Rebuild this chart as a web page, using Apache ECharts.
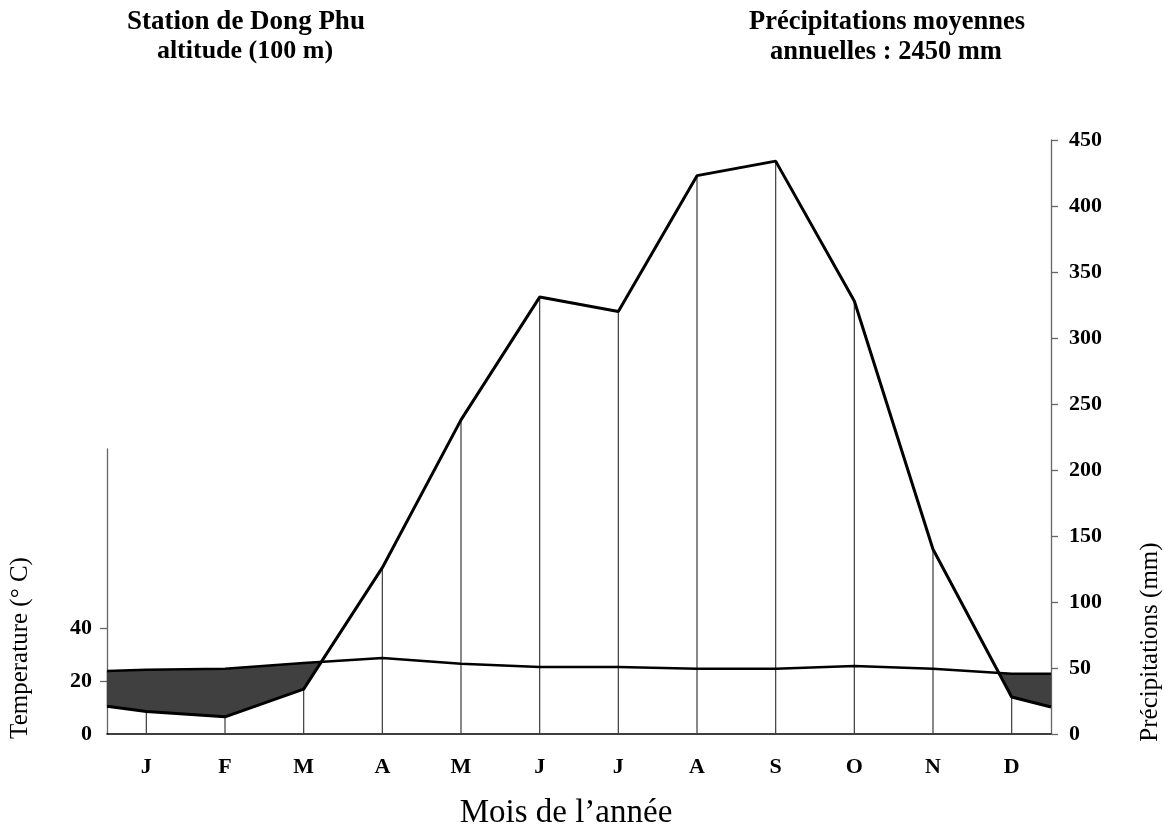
<!DOCTYPE html>
<html>
<head>
<meta charset="utf-8">
<script src="https://cdn.jsdelivr.net/npm/echarts@6/dist/echarts.min.js"></script>
<style>
  html, body { margin: 0; padding: 0; background: #fff; }
  #chart { width: 1165px; height: 828px; }
</style>
</head>
<body>
<div id="chart"></div>
<script>
// Monthly climate normals, Dong Phu station
const months = ['J', 'F', 'M', 'A', 'M', 'J', 'J', 'A', 'S', 'O', 'N', 'D'];
const precipitation = [17, 13, 34, 126, 238, 331, 320, 423, 434, 328, 140, 28];   // mm
const temperature = [24.3, 24.7, 26.9, 28.8, 26.6, 25.4, 25.4, 24.7, 24.7, 25.8, 24.7, 22.8]; // °C
// values at the start (1 Jan) and end (31 Dec) of the year
const precipEdges = [21, 20.5];
const tempEdges = [23.9, 22.8];
// axis ticks
const precipTicks = [0, 50, 100, 150, 200, 250, 300, 350, 400, 450];
const tempTicks = [0, 20, 40];
const tempTickMarks = [20, 40];

const FONT = 'Liberation Serif';
const PRECIP_MAX = 450;

// layout of the plotting area (px)
const PLOT_LEFT = 107, PLOT_RIGHT = 114, PLOT_TOP = 140, PLOT_BOTTOM = 94;
const TEMP_AXIS_TOP = 449;          // where the temperature axis line stops
const CHART_H = 828;
// temperature axis shares the rainfall scale with P = 2T
const plotH = CHART_H - PLOT_TOP - PLOT_BOTTOM;
const tempAxisH = CHART_H - TEMP_AXIS_TOP - PLOT_BOTTOM;
const TEMP_MAX = (PRECIP_MAX / 2) * tempAxisH / plotH;

// x positions: 0 = 1 Jan, 12 = 31 Dec, months at their centres
const monthX = months.map((m, i) => i + 0.5);
const xs = [0].concat(monthX, [12]);
const pSeries = [precipEdges[0]].concat(precipitation, [precipEdges[1]]);
const tSeries = [tempEdges[0]].concat(temperature, [tempEdges[1]]);
const t2Series = tSeries.map(t => 2 * t);

// dry periods: regions where the precipitation curve is below 2T
function dryPolygons(x, p, t2) {
  const polys = [];
  let cur = null;
  for (let i = 0; i < x.length; i++) {
    const d = t2[i] - p[i];
    if (i > 0) {
      const dPrev = t2[i - 1] - p[i - 1];
      if ((dPrev > 0) !== (d > 0)) {
        const f = dPrev / (dPrev - d);
        const xc = x[i - 1] + f * (x[i] - x[i - 1]);
        const yc = p[i - 1] + f * (p[i] - p[i - 1]);
        if (cur) { cur.top.push([xc, yc]); polys.push(cur); cur = null; }
        else { cur = { top: [[xc, yc]], bottom: [] }; }
      }
    }
    if (d > 0) {
      if (!cur) cur = { top: [], bottom: [] };
      cur.top.push([x[i], t2[i]]);
      cur.bottom.push([x[i], p[i]]);
    }
  }
  if (cur) polys.push(cur);
  return polys.map(c => c.top.concat(c.bottom.slice().reverse()));
}
const dryPolys = dryPolygons(xs, pSeries, t2Series);

const chart = echarts.init(document.getElementById('chart'), null, { renderer: 'canvas' });

const labelStyle = { color: '#000', fontFamily: FONT, fontWeight: 'bold', fontSize: 22, lineHeight: 22 };
const centered = { fill: '#000', textAlign: 'center', textVerticalAlign: 'middle', align: 'center', verticalAlign: 'middle' };
const hidden = { show: false };

chart.setOption({
  animation: false,
  backgroundColor: '#fff',
  grid: [
    { left: PLOT_LEFT, right: PLOT_RIGHT, top: PLOT_TOP, bottom: PLOT_BOTTOM, containLabel: false },
    { left: PLOT_LEFT, right: PLOT_RIGHT, top: TEMP_AXIS_TOP, bottom: PLOT_BOTTOM, containLabel: false }
  ],
  xAxis: [
    { // rainfall data axis
      type: 'value', gridIndex: 0, min: 0, max: 12, position: 'bottom',
      axisLine: { show: true, onZero: false, lineStyle: { color: '#000', width: 1.6 } },
      axisTick: hidden, axisLabel: hidden, splitLine: hidden
    },
    { // month letters
      type: 'category', gridIndex: 0, data: months, boundaryGap: true, position: 'bottom',
      axisLine: { show: false, onZero: false }, axisTick: hidden, splitLine: hidden,
      axisLabel: Object.assign({ margin: 22, interval: 0 }, labelStyle)
    },
    { // temperature data axis
      type: 'value', gridIndex: 1, min: 0, max: 12, position: 'bottom',
      axisLine: { show: false, onZero: false }, axisTick: hidden, axisLabel: hidden, splitLine: hidden
    }
  ],
  yAxis: [
    { // precipitation
      type: 'value', gridIndex: 0, position: 'right', min: 0, max: PRECIP_MAX, interval: 50,
      axisLine: { show: true, onZero: false, lineStyle: { color: '#666', width: 1.3 } },
      axisTick: { show: true, length: 7, customValues: precipTicks, lineStyle: { color: '#666', width: 1.3 } },
      axisLabel: Object.assign({ margin: 18, customValues: precipTicks }, labelStyle),
      splitLine: hidden
    },
    { // temperature
      type: 'value', gridIndex: 1, position: 'left', min: 0, max: TEMP_MAX,
      axisLine: { show: true, onZero: false, lineStyle: { color: '#666', width: 1.3 } },
      axisTick: { show: true, length: 7, customValues: tempTickMarks, lineStyle: { color: '#666', width: 1.3 } },
      axisLabel: Object.assign({ margin: 15, customValues: tempTicks }, labelStyle),
      splitLine: hidden
    }
  ],
  graphic: [
    { type: 'text', x: 246, y: 22, style: Object.assign({ text: 'Station de Dong Phu', font: 'bold 27px "Liberation Serif"' }, centered) },
    { type: 'text', x: 245, y: 51, style: Object.assign({ text: 'altitude (100 m)', font: 'bold 26px "Liberation Serif"' }, centered) },
    { type: 'text', x: 887, y: 22, style: Object.assign({ text: 'Précipitations moyennes', font: 'bold 26.5px "Liberation Serif"' }, centered) },
    { type: 'text', x: 886, y: 52, style: Object.assign({ text: 'annuelles : 2450 mm', font: 'bold 26.5px "Liberation Serif"' }, centered) },
    { type: 'text', x: 566, y: 813, style: Object.assign({ text: 'Mois de l’année', font: '33px "Liberation Serif"' }, centered) },
    { type: 'text', x: 20, y: 648, rotation: Math.PI / 2, style: Object.assign({ text: 'Temperature (° C)', font: '25px "Liberation Serif"' }, centered) },
    { type: 'text', x: 1150, y: 642, rotation: Math.PI / 2, style: Object.assign({ text: 'Précipitations (mm)', font: '25px "Liberation Serif"' }, centered) }
  ],
  series: [
    { // monthly drop lines from the axis up to the rainfall value
      type: 'custom', xAxisIndex: 0, yAxisIndex: 0, z: 2, silent: true,
      data: monthX.map((x, i) => [x, precipitation[i]]),
      renderItem: function (params, api) {
        const x = api.value(0), p = api.value(1);
        const a = api.coord([x, 0]), b = api.coord([x, p]);
        return { type: 'line', shape: { x1: a[0], y1: a[1], x2: b[0], y2: b[1] }, style: { stroke: '#3a3a3a', lineWidth: 1.2 } };
      }
    },
    { // dry season shading (rainfall below twice the temperature)
      type: 'custom', xAxisIndex: 0, yAxisIndex: 0, z: 3, silent: true,
      data: [[0, 0]],
      renderItem: function (params, api) {
        return {
          type: 'group',
          children: dryPolys.map(poly => ({
            type: 'polygon',
            shape: { points: poly.map(pt => api.coord(pt)) },
            style: { fill: '#404040', stroke: '#404040', lineWidth: 0.5 }
          }))
        };
      }
    },
    { // precipitation curve
      type: 'line', xAxisIndex: 0, yAxisIndex: 0, z: 4, silent: true,
      data: xs.map((x, i) => [x, pSeries[i]]),
      symbol: 'none', lineStyle: { color: '#000', width: 3 }
    },
    { // temperature curve
      type: 'line', xAxisIndex: 2, yAxisIndex: 1, z: 5, silent: true,
      data: xs.map((x, i) => [x, tSeries[i]]),
      symbol: 'none', lineStyle: { color: '#000', width: 2.5 }
    }
  ]
});
</script>
</body>
</html>
